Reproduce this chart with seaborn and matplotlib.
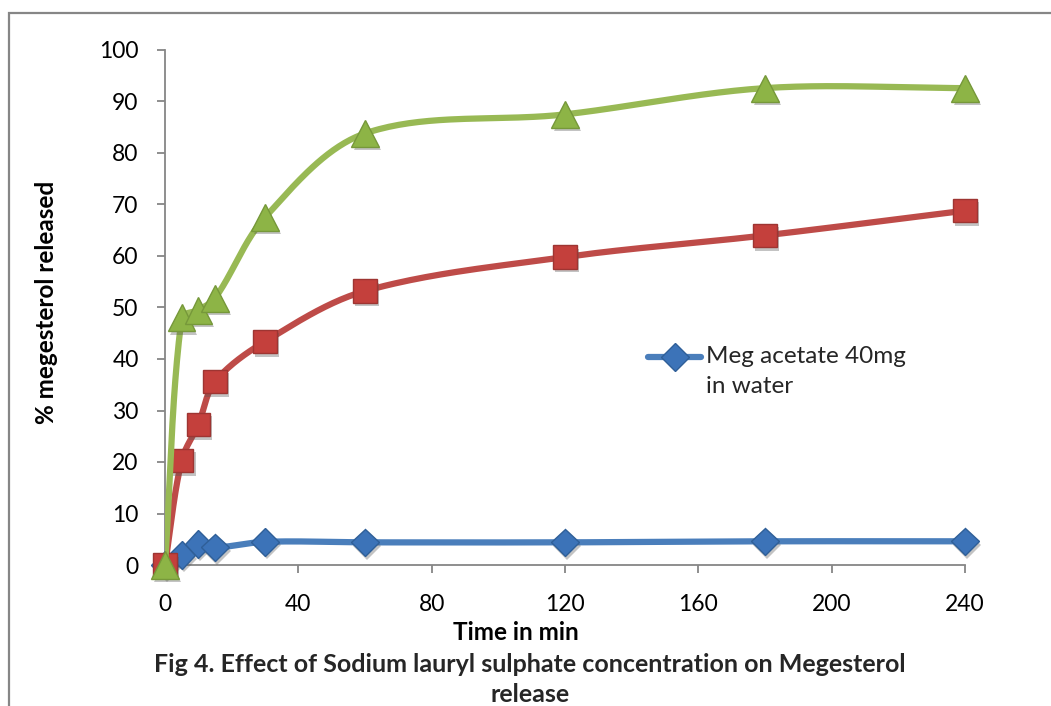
import numpy as np
import pandas as pd
import matplotlib
matplotlib.use("Agg")
import matplotlib.pyplot as plt
import matplotlib.patheffects as pe
import matplotlib.transforms as mtransforms
from matplotlib.lines import Line2D
from matplotlib.legend_handler import HandlerLine2D
from matplotlib.patches import Rectangle
import seaborn as sns

# ---- data ----
time_min = [0, 5, 10, 15, 30, 60, 120, 180, 240]
meg_water = [0, 1.9, 4.1, 3.4, 4.5, 4.4, 4.4, 4.6, 4.6]
meg_sls_low = [0, 20.3, 27.3, 35.6, 43.4, 53.2, 59.8, 64.0, 68.8]
meg_sls_high = [0, 48.0, 49.5, 51.8, 67.5, 83.8, 87.5, 92.6, 92.6]
legend_label = "Meg acetate 40mg\nin water"
x_ticks = [0, 40, 80, 120, 160, 200, 240]
y_ticks = list(range(0, 101, 10))

sns.set_style("white")
plt.rcParams['font.family'] = ['Lato', 'DejaVu Sans']

W, H = 1051, 706
AX_W, AX_H = 800, 515
fig = plt.figure(figsize=(W / 100, H / 100), dpi=100)
ax = fig.add_axes([165 / W, 1 - 565 / H, AX_W / W, AX_H / H])

XMAX, YMAX = 240, 100
SX, SY = AX_W / XMAX, AX_H / YMAX  # pixel scale for smoothing


def smooth(x, y, n=40):
    """Excel-like smoothed line (Bezier, control points scaled by segment lengths)."""
    pts = np.column_stack([np.asarray(x, float) * SX, np.asarray(y, float) * SY])
    m = len(pts)
    t = np.linspace(0, 1, n)[:, None]
    out = []
    for i in range(m - 1):
        p0 = pts[max(i - 1, 0)]
        p1 = pts[i]
        p2 = pts[i + 1]
        p3 = pts[min(i + 2, m - 1)]
        d01 = np.hypot(*(p1 - p0))
        d12 = np.hypot(*(p2 - p1))
        d23 = np.hypot(*(p3 - p2))
        f1 = d12 / (d01 + d12) / 3 if (d01 + d12) > 0 else 0
        f2 = d12 / (d12 + d23) / 3 if (d12 + d23) > 0 else 0
        c1 = p1 + (p2 - p0) * f1
        c2 = p2 - (p3 - p1) * f2
        b = ((1 - t) ** 3) * p1 + 3 * ((1 - t) ** 2) * t * c1 + 3 * (1 - t) * t ** 2 * c2 + t ** 3 * p2
        out.append(b if i == 0 else b[1:])
    b = np.vstack(out)
    return b[:, 0] / SX, b[:, 1] / SY


series = [
    (meg_water, "#4A7EBB", "#3C73B8", "#2F5F98", "D", 14),
    (meg_sls_low, "#BE4B48", "#C4403C", "#9E3532", "s", 17),
    (meg_sls_high, "#98B954", "#8DB446", "#76983A", "^", 19.5),
]

shadow = [pe.SimplePatchShadow(offset=(1.5, -2.5), shadow_rgbFace="#555555", alpha=0.35), pe.Normal()]

for i, (vals, lc, mc, ec, mk, ms) in enumerate(series):
    sx, sy = smooth(time_min, vals)
    df = pd.DataFrame({"x": sx, "y": sy})
    sns.lineplot(data=df, x="x", y="y", ax=ax, color=lc, lw=4.5, sort=False,
                 estimator=None, zorder=2 + 2 * i)
    ax.plot(time_min, vals, linestyle="none", marker=mk, markersize=ms,
            markerfacecolor=mc, markeredgecolor=ec, markeredgewidth=1.0,
            zorder=3 + 2 * i, path_effects=shadow, clip_on=False)

ax.set_xlim(0, XMAX)
ax.set_ylim(0, YMAX)
ax.set_xticks(x_ticks)
ax.set_yticks(y_ticks)
ax.set_xticklabels([str(v) for v in x_ticks])
ax.set_yticklabels([str(v) for v in y_ticks])

for s in ["top", "right"]:
    ax.spines[s].set_visible(False)
for s in ["left", "bottom"]:
    ax.spines[s].set_color("#868686")
    ax.spines[s].set_linewidth(1.3)

ax.tick_params(axis="both", direction="out", length=6, width=1.3, color="#868686",
               labelsize=16.5, labelcolor="black")
ax.tick_params(axis="x", pad=15, bottom=True)
ax.tick_params(axis="y", pad=13, left=True)

ax.set_xlabel("Time in min", fontsize=17.5, fontweight="bold", color="black")
ax.xaxis.set_label_coords((516 - 165) / AX_W, -(633 - 565) / AX_H)
ax.set_ylabel("% megesterol released", fontsize=17.5, fontweight="bold", color="black")
ax.yaxis.set_label_coords(-(165 - 46) / AX_W, (565 - 302) / AX_H)
ax.yaxis.label.set_va("center")
ax.xaxis.label.set_va("center")


class TopAlignedHandler(HandlerLine2D):
    def __init__(self, dy=0, **kw):
        super().__init__(**kw)
        self.dy = dy

    def create_artists(self, legend, orig_handle, xdescent, ydescent, width, height, fontsize, trans):
        t2 = mtransforms.Affine2D().translate(0, self.dy) + trans
        return super().create_artists(legend, orig_handle, xdescent, ydescent, width, height, fontsize, t2)


handle = Line2D([], [], color="#4A7EBB", lw=4.5, marker="D", markersize=14,
                markerfacecolor="#3C73B8", markeredgecolor="#2F5F98")
leg = ax.legend([handle], [legend_label], loc="upper left",
                bbox_to_anchor=(626 / W, 1 - 324 / H), bbox_transform=fig.transFigure,
                frameon=False, fontsize=17.5, handlelength=2.2, handletextpad=0.2,
                labelspacing=0.2, handler_map={handle: TopAlignedHandler(dy=10.5)})
for txt in leg.get_texts():
    txt.set_linespacing(1.55)
leg.set_zorder(20)

fig.text(530 / W, 1 - 665 / H, "Fig 4. Effect of Sodium lauryl sulphate concentration on Megesterol",
         ha="center", va="center", fontsize=18, fontweight="bold")
fig.text(530 / W, 1 - 695 / H, "release", ha="center", va="center", fontsize=18, fontweight="bold")

fig.add_artist(Rectangle((9 / W, -0.1), 1.2, 1.1 - 13 / H, transform=fig.transFigure,
                         fill=False, ec="#868686", lw=1.6))

fig.savefig("out.png", dpi=100, facecolor="white")
